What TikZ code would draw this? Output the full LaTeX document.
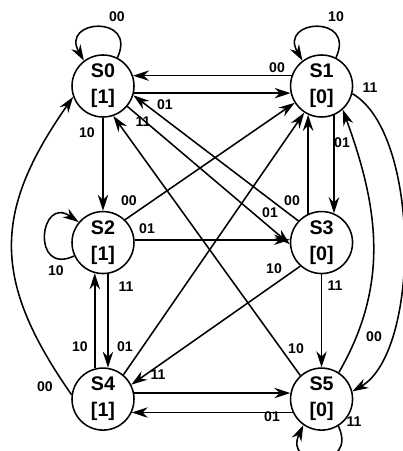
\documentclass[tikz,border=0pt]{standalone}
\usepackage{fontspec}
\setmainfont{Liberation Sans}
\usetikzlibrary{arrows.meta, positioning}

\begin{document}
\begin{tikzpicture}[
            x=0.25mm, y=0.25mm,
            node distance=23.25mm and 38.75mm,
            state/.style={
                draw,
                circle,
                line width=1.1pt,
                minimum size=15.5mm,
                inner sep=0pt,
                align=center,
                font=\fontsize{14}{18.5}\selectfont\bfseries
            },
            lbl/.style={font=\fontsize{10}{12}\selectfont\bfseries, inner sep=0pt},
            arrow/.style={-{Stealth[length=4mm, width=2.6mm]}, line width=1.1pt}
        ]
            \useasboundingbox (0,0) rectangle (403,451);

            \node[state] (S0) at (103,365) {S0\\{[1]}};
            \node[state, right=of S0] (S1) {S1\\{[0]}};
            \node[state, below=of S0] (S2) {S2\\{[1]}};
            \node[state, below=of S1] (S3) {S3\\{[0]}};
            \node[state, below=of S2] (S4) {S4\\{[1]}};
            \node[state, below=of S3] (S5) {S5\\{[0]}};

            % self loops
            \draw[arrow] (S0.63) .. controls +(65:12mm) and +(120:12mm) .. (S0.127);
            \draw[arrow] (S1.63) .. controls +(65:12mm) and +(120:12mm) .. (S1.127);
            \draw[arrow] (S2.205) .. controls +(205:12mm) and +(145:12mm) .. (S2.140);
            \draw[arrow] (S5.-58) .. controls +(-65:12mm) and +(-115:12mm) .. (S5.-125);

            % transitions
            \draw[arrow] (S1.161) -- (S0.19);
            \draw[arrow] (S0.-13) -- (S1.193);
            \draw[arrow] (S0) -- (S2);
            \draw[arrow] (S0.-40) -- (S3.183);
            \draw[arrow] (S1.-67) -- (S3.67);
            \draw[arrow] (S1.-14) to[out=-30, in=30, looseness=0.68] (S5.14);
            \draw[arrow] (S2.46) -- (S1.212);
            \draw[arrow] (S2.5) -- (S3.175);
            \draw[arrow] (S2.-81) -- (S4.81);
            \draw[arrow] (S3.115) -- (S1.245);
            \draw[arrow] (S3.137) -- (S0.-17);
            \draw[arrow] (S3.228) -- (S4.27);
            \draw[arrow] (S3) -- (S5);
            \draw[arrow] (S4.105) -- (S2.-105);
            \draw[arrow] (S4.50) -- (S1.237);
            \draw[arrow] (S4.11) -- (S5.169);
            \draw[arrow] (S4.172) to[out=125, in=235, looseness=1.2] (S0.200);
            \draw[arrow] (S5.132) -- (S0.-71);
            \draw[arrow] (S5.57) to[out=60, in=-70] (S1.-48);
            \draw[arrow] (S5.205) -- (S4.-25);

            % input labels
            \node[lbl] (l00) at (117,434) {00};
            \node[lbl] (l11) at (336,434) {10};
            \node[lbl] (l22) at (56,180) {10};
            \node[lbl] (l55) at (354,29) {11};
            \node[lbl] (l10) at (277,383) {00};
            \node[lbl] (l15) at (370,363) {11};
            \node[lbl] (l01) at (165,346) {01};
            \node[lbl] (l03) at (143,329) {11};
            \node[lbl] (l02) at (87,318) {10};
            \node[lbl] (l13) at (342,308) {01};
            \node[lbl] (l21) at (129,250) {00};
            \node[lbl] (l23) at (147,222) {01};
            \node[lbl] (l24) at (126,164) {11};
            \node[lbl] (l31) at (292,250) {00};
            \node[lbl] (l30) at (270,238) {01};
            \node[lbl] (l34) at (274,182) {10};
            \node[lbl] (l35) at (335,165) {11};
            \node[lbl] (l42) at (80,104) {10};
            \node[lbl] (l41) at (125,104) {01};
            \node[lbl] (l45) at (158,76) {11};
            \node[lbl] (l40) at (45,64) {00};
            \node[lbl] (l50) at (296,102) {10};
            \node[lbl] (l51) at (374,114) {00};
            \node[lbl] (l54) at (272,34) {01};
        \end{tikzpicture}
\end{document}
